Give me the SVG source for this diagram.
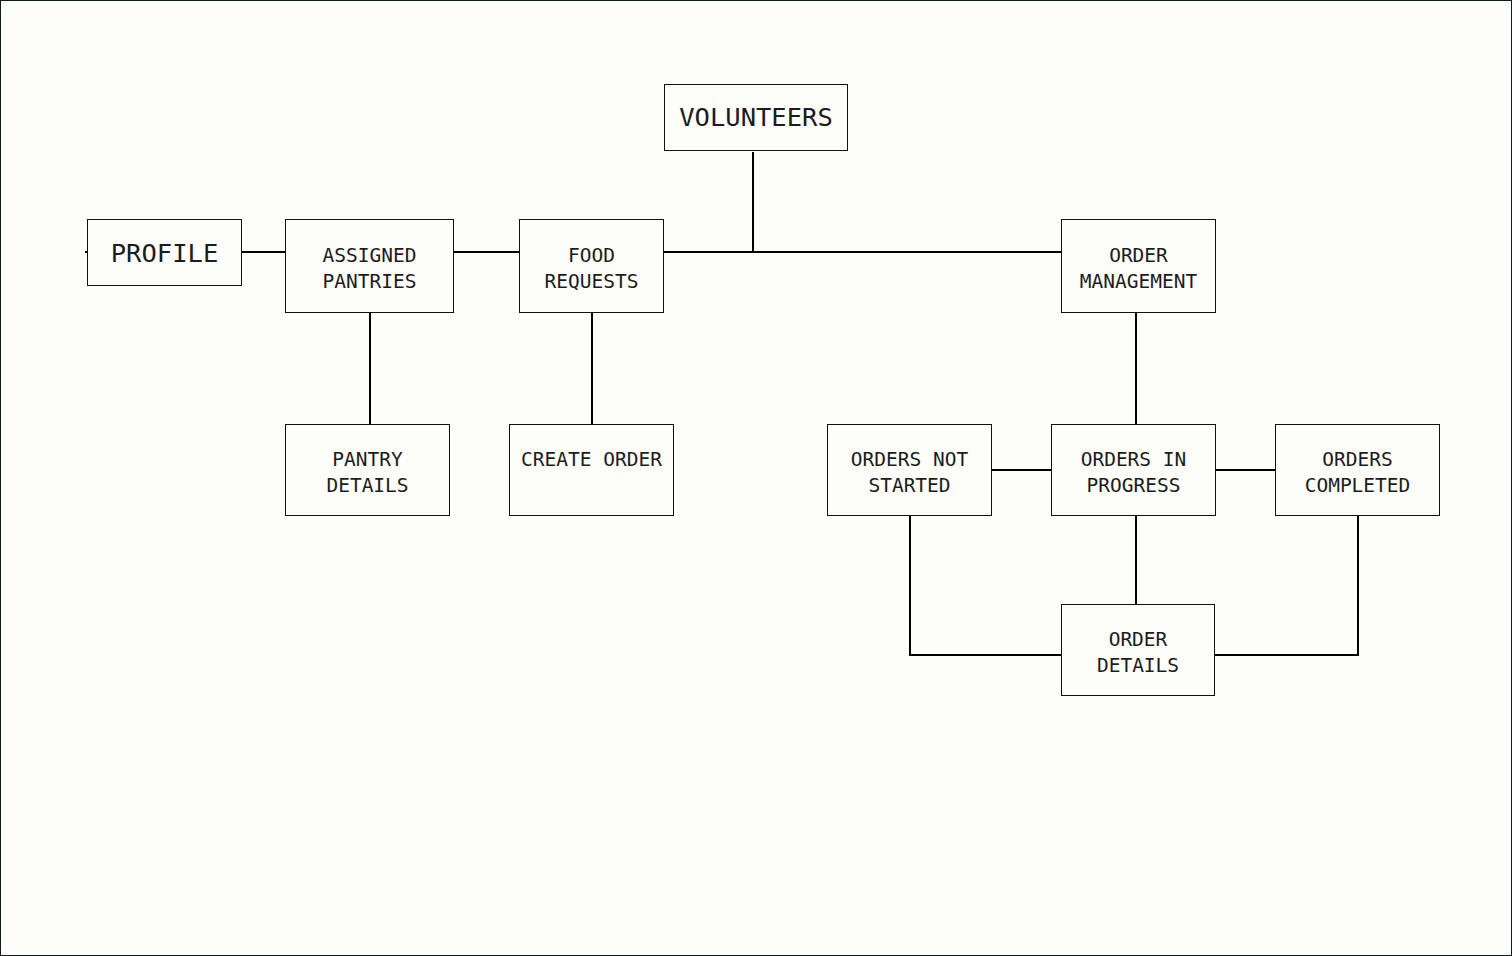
<svg xmlns="http://www.w3.org/2000/svg" width="1512" height="956" viewBox="0 0 1512 956">
<style>
.box{fill:#fdfdfa;stroke:#111;stroke-width:1}
.t{font-family:"DejaVu Sans Mono","Liberation Mono",monospace;font-size:19.5px;fill:#1c1c1c;text-anchor:middle}
.tl{font-family:"DejaVu Sans Mono","Liberation Mono",monospace;font-size:25.5px;fill:#1c1c1c;text-anchor:middle}
.c{fill:none;stroke:#000;stroke-width:2}
</style>
<rect x="0.5" y="0.5" width="1511" height="955" fill="#fdfdfa" stroke="#0e1c20" stroke-width="1"/>
<g id="connectors">
<line class="c" x1="85" y1="252" x2="88" y2="252"/>
<line class="c" x1="242" y1="252" x2="286" y2="252"/>
<line class="c" x1="454" y1="252" x2="520" y2="252"/>
<line class="c" x1="664" y1="252" x2="1062" y2="252"/>
<line class="c" x1="753" y1="152" x2="753" y2="252"/>
<line class="c" x1="370" y1="313" x2="370" y2="425"/>
<line class="c" x1="592" y1="313" x2="592" y2="425"/>
<line class="c" x1="1136" y1="313" x2="1136" y2="425"/>
<line class="c" x1="992" y1="470" x2="1052" y2="470"/>
<line class="c" x1="1216" y1="470" x2="1276" y2="470"/>
<line class="c" x1="1136" y1="516" x2="1136" y2="605"/>
<polyline class="c" points="910,516 910,655 1062,655"/>
<polyline class="c" points="1358,516 1358,655 1215,655"/>
</g>
<g id="volunteers"><rect class="box" x="664.5" y="84.5" width="183" height="66"/><text class="tl" x="756" y="126">VOLUNTEERS</text></g>
<g id="profile"><rect class="box" x="87.5" y="219.5" width="154" height="66"/><text class="tl" x="164.5" y="262">PROFILE</text></g>
<g id="assigned-pantries"><rect class="box" x="285.5" y="219.5" width="168" height="93"/><text class="t" x="369.5" y="262">ASSIGNED</text><text class="t" x="369.5" y="288">PANTRIES</text></g>
<g id="food-requests"><rect class="box" x="519.5" y="219.5" width="144" height="93"/><text class="t" x="591.5" y="262">FOOD</text><text class="t" x="591.5" y="288">REQUESTS</text></g>
<g id="order-management"><rect class="box" x="1061.5" y="219.5" width="154" height="93"/><text class="t" x="1138.5" y="262">ORDER</text><text class="t" x="1138.5" y="288">MANAGEMENT</text></g>
<g id="pantry-details"><rect class="box" x="285.5" y="424.5" width="164" height="91"/><text class="t" x="367.5" y="466">PANTRY</text><text class="t" x="367.5" y="492">DETAILS</text></g>
<g id="create-order"><rect class="box" x="509.5" y="424.5" width="164" height="91"/><text class="t" x="591.5" y="466">CREATE ORDER</text></g>
<g id="orders-not-started"><rect class="box" x="827.5" y="424.5" width="164" height="91"/><text class="t" x="909.5" y="466">ORDERS NOT</text><text class="t" x="909.5" y="492">STARTED</text></g>
<g id="orders-in-progress"><rect class="box" x="1051.5" y="424.5" width="164" height="91"/><text class="t" x="1133.5" y="466">ORDERS IN</text><text class="t" x="1133.5" y="492">PROGRESS</text></g>
<g id="orders-completed"><rect class="box" x="1275.5" y="424.5" width="164" height="91"/><text class="t" x="1357.5" y="466">ORDERS</text><text class="t" x="1357.5" y="492">COMPLETED</text></g>
<g id="order-details"><rect class="box" x="1061.5" y="604.5" width="153" height="91"/><text class="t" x="1138" y="646">ORDER</text><text class="t" x="1138" y="672">DETAILS</text></g>
</svg>
